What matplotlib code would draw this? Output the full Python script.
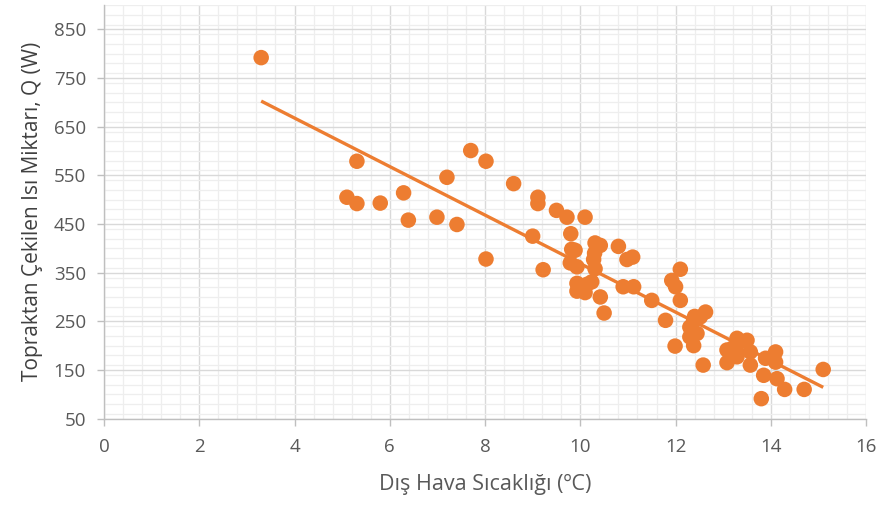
import numpy as np
import matplotlib
matplotlib.use("Agg")
import matplotlib.pyplot as plt
from matplotlib.ticker import MultipleLocator

plt.rcParams['font.family'] = ['Open Sans', 'DejaVu Sans']

# Outdoor air temperature (°C) and heat extracted from the ground (W)
temperature = [
    3.30, 5.10, 5.31, 5.31, 5.80, 6.29, 6.39, 6.99, 7.20, 7.41,
    7.70, 8.02, 8.02, 8.60, 9.00, 9.11, 9.11, 9.22, 9.50, 9.72,
    10.10, 9.80, 9.82, 9.89, 9.79, 9.93, 9.93, 9.93, 10.14, 10.10,
    10.24, 10.42, 10.31, 10.42, 10.30, 10.28, 10.31, 10.80, 10.98, 11.10,
    10.90, 11.12, 10.50, 11.50, 11.79, 11.92, 12.00, 12.10, 12.10, 11.99,
    12.63, 12.52, 12.38, 12.30, 12.45, 12.30, 12.38, 12.58, 13.29, 13.50,
    13.08, 13.29, 13.08, 13.57, 13.57, 13.89, 13.85, 14.10, 14.10, 14.13,
    14.29, 14.70, 13.80, 15.10, 13.20, 13.30, 12.40,
]
heat = [
    792, 505, 579, 492, 493, 514, 458, 464, 546, 449,
    601, 579, 378, 533, 425, 505, 492, 356, 478, 464,
    464, 430, 398, 396, 370, 362, 328, 312, 326, 309,
    331, 300, 411, 406, 390, 377, 358, 404, 377, 382,
    321, 321, 267, 293, 252, 334, 321, 357, 293, 199,
    269, 259, 252, 238, 225, 218, 200, 160, 215, 211,
    191, 177, 165, 187, 160, 174, 139, 187, 166, 132,
    110, 110, 91, 151, 195, 185, 260,
]

x_ticks = list(range(0, 17, 2))
y_ticks = list(range(50, 851, 100))

x = np.array(temperature)
y = np.array(heat)
slope, intercept = np.polyfit(x, y, 1)
x_fit = np.array([x.min(), x.max()])
y_fit = slope * x_fit + intercept

orange = '#ED7D31'

fig = plt.figure(figsize=(8.79, 5.08), dpi=100)
ax = fig.add_axes([0.1183, 0.176, 0.867, 0.814])

ax.scatter(x, y, s=125, color=orange, edgecolors='none', zorder=3)
ax.plot(x_fit, y_fit, color=orange, lw=2.4, zorder=2, solid_capstyle='butt')

ax.set_xlim(0, 16)
ax.set_ylim(50, 900)
ax.set_xticks(x_ticks)
ax.set_yticks(y_ticks)
ax.xaxis.set_minor_locator(MultipleLocator(0.4))
ax.yaxis.set_minor_locator(MultipleLocator(20))

ax.grid(which='major', color='#d9d9d9', lw=1.0, zorder=0)
ax.grid(which='minor', color='#eeeeee', lw=0.9, zorder=0)
ax.set_axisbelow(True)

for side in ('top', 'right'):
    ax.spines[side].set_visible(False)
for side in ('left', 'bottom'):
    ax.spines[side].set_color('#bfbfbf')
    ax.spines[side].set_linewidth(1.0)

ax.tick_params(which='major', length=5, width=1.0, color='#bfbfbf',
               labelcolor='#595959', labelsize=13.5)
ax.tick_params(axis='x', which='major', pad=9)
ax.tick_params(axis='y', which='major', pad=8)
ax.tick_params(which='minor', length=0)

ax.set_xlabel('Dış Hava Sıcaklığı (ºC)', fontsize=15.5, color='#595959', labelpad=13)
ax.set_ylabel('Topraktan Çekilen Isı Miktarı, Q (W)', fontsize=15, color='#404040', labelpad=8)

fig.savefig('out.png', dpi=100)
